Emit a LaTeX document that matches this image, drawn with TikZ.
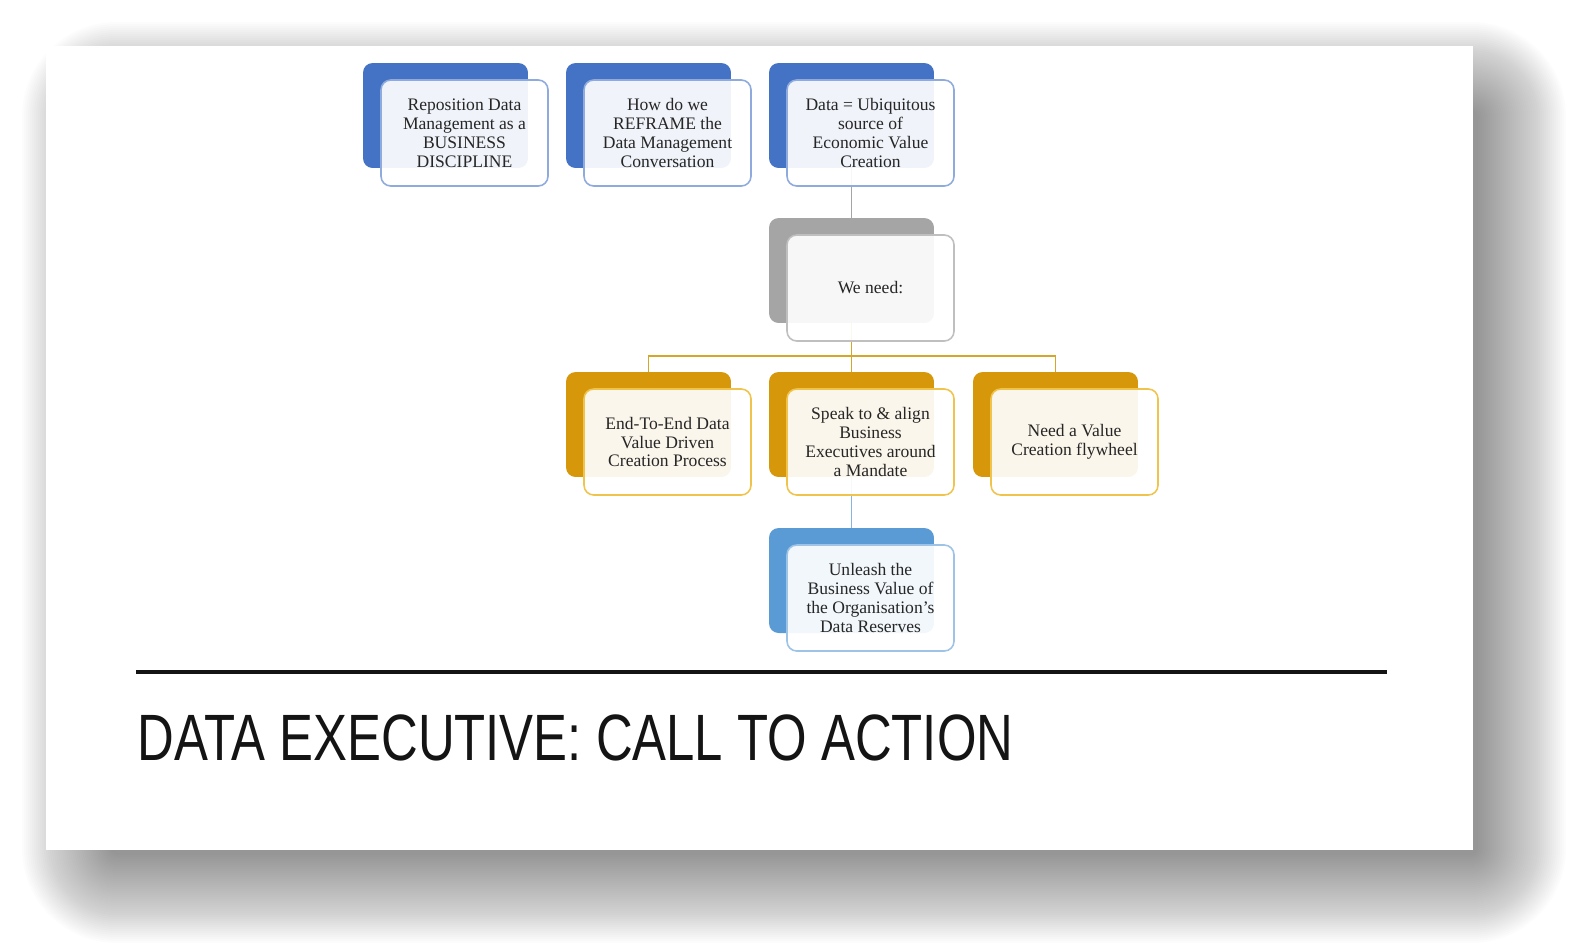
\documentclass[tikz,border=0pt]{standalone}
\usepackage{graphicx}
\usepackage{fontspec}
\setmainfont{Liberation Serif}
\newfontfamily\titlefont{Liberation Sans}
\usepackage{tikz}
\usetikzlibrary{positioning,calc,backgrounds}
\definecolor{accBlue}{HTML}{4472C4}
\definecolor{accBlueLine}{HTML}{8FAADC}
\definecolor{accGray}{HTML}{A5A5A5}
\definecolor{accGrayLine}{HTML}{BFBFBF}
\definecolor{accGold}{HTML}{D6980A}
\definecolor{accGoldLine}{HTML}{F0C44C}
\definecolor{accGoldLink}{HTML}{D4A72C}
\definecolor{accSky}{HTML}{5B9BD5}
\definecolor{accSkyLine}{HTML}{9DC3E6}
\definecolor{accSkyLink}{HTML}{8AB4DE}
\definecolor{inktext}{HTML}{262626}
\tikzset{
  backbox/.style ={rectangle, rounded corners=5.5pt, minimum width=3.3cm,
                   minimum height=2.1cm, inner sep=0pt},
  frontbox/.style={rectangle, rounded corners=5.5pt, minimum width=3.34cm,
                   minimum height=2.12cm, inner sep=2pt, line width=0.9pt,
                   fill=white, fill opacity=0.92, text opacity=1, align=center,
                   text=inktext, font=\fontsize{10}{10.8}\selectfont},
  % tree links run between the back boxes and show faintly through the front ones
  link/.style    ={line width=0.9pt},
  titletext/.style={anchor=base west, inner sep=0pt, text=black!92,
                   font=\titlefont\fontsize{37.3}{40}\selectfont},
}
% #1 name, #2 centre of back box, #3 back fill, #4 front border, #5 text
\newcommand{\pairbox}[5]{%
  \node[backbox, fill=#3] (#1-b) at (#2) {};
  \node[frontbox, draw=#4] (#1) at ($(#1-b)+(19,17.5)$) {#5};}

\begin{document}
\begin{tikzpicture}[x=0.02cm, y=-0.02cm]
  \useasboundingbox (0,0) rectangle (1572,947);
  \begin{scope}[on background layer]
    % soft drop shadow of the slide
    \foreach \k in {0,...,44}{%
      \pgfmathsetmacro\rr{4+\k*1.13}
      \fill[black, fill opacity=0.0135, rounded corners=\rr pt]
        (110-2*\k,110-2*\k) rectangle (1478+2*\k,855+2*\k);}
    \fill[white] (46,46) rectangle (1473,850);
  \end{scope}

  \pairbox{t1}{445.5,115.5}{accBlue}{accBlueLine}{Reposition Data\\Management as a\\BUSINESS\\DISCIPLINE}
  \pairbox{t2}{648.5,115.5}{accBlue}{accBlueLine}{How do we\\REFRAME the\\Data Management\\Conversation}
  \pairbox{t3}{851.5,115.5}{accBlue}{accBlueLine}{Data = Ubiquitous\\source of\\Economic Value\\Creation}
  \pairbox{need}{851.5,270.5}{accGray}{accGrayLine}{We need:}
  \pairbox{oA}{648.5,424.5}{accGold}{accGoldLine}{End-To-End Data\\Value Driven\\Creation Process}
  \pairbox{oB}{851.5,424.5}{accGold}{accGoldLine}{Speak to \& align\\Business\\Executives around\\a Mandate}
  \pairbox{oC}{1055.5,424.5}{accGold}{accGoldLine}{Need a Value\\Creation flywheel}
  \pairbox{res}{851.5,580.5}{accSky}{accSkyLine}{Unleash the\\Business Value of\\the Organisation's\\Data Reserves}

  \coordinate (bus) at (851.5,356);
  \begin{scope}[on background layer]
    \draw[link, accGray] (t3-b.south) -- (need-b.north);
    \foreach \o in {oA,oB,oC}
      \draw[link, accGoldLink] (need-b.south) |- (bus) -| (\o-b.north);
    \draw[link, accSkyLink] (oB-b.south) -- (res-b.north);
  \end{scope}

  \draw[line width=2.8pt, black!92] (136,672) -- (1387,672);
  \node[titletext] (title) at (137,760) {\scalebox{0.776}[1]{DATA EXECUTIVE: CALL TO ACTION}};
\end{tikzpicture}
\end{document}
